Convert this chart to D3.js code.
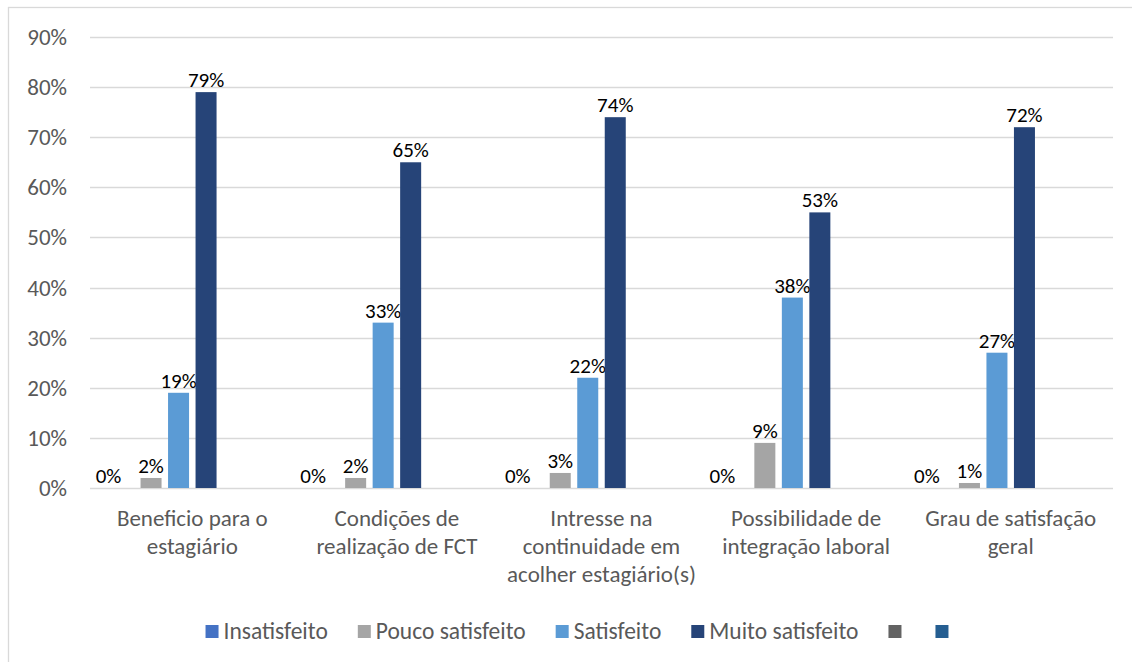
<!DOCTYPE html>
<head>
  <meta charset="utf-8">
  <script src="https://d3js.org/d3.v7.min.js"></script>
  <style>
  body{ margin: 0; background: #fff; }
  text{ font-family: Calibri, Carlito, Lato, sans-serif; }
  .grid line{ stroke: #d9d9d9; stroke-width: 1.3px; }
  .ylab{ font-size: 23px; fill: #595959; }
  .cat{ font-size: 23px; fill: #595959; }
  .val{ font-size: 21px; fill: #000; }
  .leg{ font-size: 23.5px; fill: #595959; }
  </style>
</head>

<body>
  <script>
    // data
    var categories = [
      ["Beneficio para o", "estagiário"],
      ["Condições de", "realização de FCT"],
      ["Intresse na", "continuidade em", "acolher estagiário(s)"],
      ["Possibilidade de", "integração laboral"],
      ["Grau de satisfação", "geral"]
    ];
    var seriesNames = ["Insatisfeito", "Pouco satisfeito", "Satisfeito", "Muito satisfeito", "", ""];
    var seriesColors = ["#4472c4", "#a5a5a5", "#5b9bd5", "#264478", "#636363", "#255e91"];
    var insatisfeito    = [0, 0, 0, 0, 0];
    var poucoSatisfeito = [2, 2, 3, 9, 1];
    var satisfeito      = [19, 33, 22, 38, 27];
    var muitoSatisfeito = [79, 65, 74, 55, 72];
    var muitoLabels     = ["79%", "65%", "74%", "53%", "72%"]; // label printed in the source (bar 4 drawn at 55)
    var emptyA = [null, null, null, null, null];
    var emptyB = [null, null, null, null, null];
    var yTicks = [0, 10, 20, 30, 40, 50, 60, 70, 80, 90];

    var series = [insatisfeito, poucoSatisfeito, satisfeito, muitoSatisfeito, emptyA, emptyB];

    var W = 1132, H = 662;
    var plot = {left: 90, right: 1113, top: 37, bottom: 488};

    var svg = d3.select("body").append("svg")
      .attr("width", W).attr("height", H);

    // chart border (right/bottom fall outside the picture)
    svg.append("rect")
      .attr("x", 8.5).attr("y", 7.5)
      .attr("width", 1140).attr("height", 670)
      .attr("fill", "none").attr("stroke", "#d9d9d9").attr("stroke-width", 1.3);

    var y = d3.scaleLinear().domain([0, 90]).range([plot.bottom, plot.top]);

    var x0 = d3.scaleBand()
      .domain(d3.range(categories.length))
      .range([plot.left, plot.right]);

    var bw = x0.bandwidth();
    var x1 = d3.scaleBand()
      .domain(d3.range(series.length))
      .range([bw / 2 - 82.5, bw / 2 + 82.5])
      .paddingInner(0.236).paddingOuter(0.118);

    // gridlines
    svg.append("g").attr("class", "grid")
      .selectAll("line").data(yTicks).join("line")
      .attr("x1", plot.left).attr("x2", plot.right)
      .attr("y1", function(d){ return Math.round(y(d)) + 0.5; })
      .attr("y2", function(d){ return Math.round(y(d)) + 0.5; });

    // y labels
    svg.append("g").selectAll("text").data(yTicks).join("text")
      .attr("class", "ylab")
      .attr("x", 67).attr("y", function(d){ return y(d); })
      .attr("dy", "0.35em").attr("text-anchor", "end")
      .text(function(d){ return d + "%"; });

    // bars
    var groups = svg.append("g").selectAll("g").data(categories).join("g")
      .attr("transform", function(d, i){ return "translate(" + x0(i) + ",0)"; });

    groups.each(function(cat, ci){
      var g = d3.select(this);
      series.forEach(function(s, si){
        var v = s[ci];
        if (v === null) return;
        g.append("rect")
          .attr("x", x1(si)).attr("width", x1.bandwidth())
          .attr("y", y(v)).attr("height", y(0) - y(v))
          .attr("fill", seriesColors[si]);
        var lbl = si === 3 ? muitoLabels[ci] : v + "%";
        g.append("text").attr("class", "val")
          .attr("x", x1(si) + x1.bandwidth() / 2 + (v === 0 ? -15 : 0))
          .attr("y", y(v) - 5)
          .attr("text-anchor", "middle")
          .text(lbl);
      });
    });

    // category labels
    var cats = svg.append("g").selectAll("text").data(categories).join("text")
      .attr("class", "cat")
      .attr("text-anchor", "middle")
      .attr("x", function(d, i){ return x0(i) + bw / 2; })
      .attr("y", 526);
    cats.each(function(lines, i){
      var t = d3.select(this);
      lines.forEach(function(l, li){
        t.append("tspan")
          .attr("x", x0(i) + bw / 2)
          .attr("dy", li === 0 ? 0 : 28)
          .text(l);
      });
    });

    // legend
    var leg = svg.append("g");
    var lx = 0;
    seriesNames.forEach(function(name, i){
      var it = leg.append("g");
      it.append("rect").attr("x", 0).attr("y", -7).attr("width", 13).attr("height", 13)
        .attr("fill", seriesColors[i]);
      var tw = 0;
      if (name) {
        var t = it.append("text").attr("class", "leg")
          .attr("x", 18).attr("y", 7).text(name);
        tw = t.node().getComputedTextLength();
      }
      it.attr("transform", "translate(" + lx + ",0)");
      lx += name ? 18 + tw + 30 : 47;
    });
    var total = lx - 34;
    leg.attr("transform", "translate(" + (577 - total / 2) + ",632)");
  </script>
</body>
